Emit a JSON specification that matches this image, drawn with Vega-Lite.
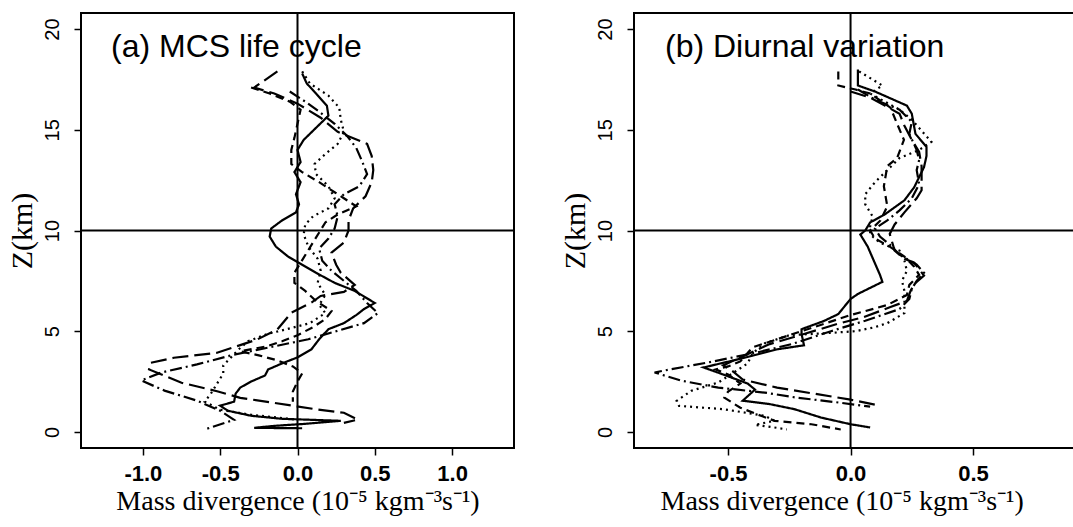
{
  "$schema": "https://vega.github.io/schema/vega-lite/v6.json",
  "background": "white",
  "padding": {"left": 6, "top": 11, "right": 0, "bottom": 0},
  "spacing": 43,
  "config": {
    "view": {"stroke": "black", "strokeWidth": 2},
    "axis": {"domain": false, "grid": false, "tickColor": "black", "tickWidth": 1.5, "tickSize": 7, "labelColor": "black", "titleColor": "black", "labelFlush": false, "labelOverlap": false},
    "axisX": {"labelFont": "Liberation Sans", "labelFontWeight": "bold", "labelFontSize": 22, "labelPadding": 8, "titleFont": "Liberation Serif", "titleFontSize": 28, "titleFontWeight": "normal", "titlePadding": 3},
    "axisY": {"labelAngle": 270, "labelAlign": "center", "labelBaseline": "bottom", "labelFont": "Liberation Sans", "labelFontSize": 20, "labelPadding": 12, "titleFont": "Liberation Serif", "titleFontSize": 30, "titleFontWeight": "normal", "titlePadding": 5},
    "title": {"font": "Liberation Sans", "fontSize": 32, "fontWeight": "normal", "color": "black", "anchor": "start", "frame": "group"}
  },
  "datasets": {
    "a": [
      {"s":"solid","x":0.03,"z":17.8},{"s":"solid","x":0.06,"z":17.3},{"s":"solid","x":0.12,"z":16.8},{"s":"solid","x":0.19,"z":16.2},{"s":"solid","x":0.2,"z":15.7},{"s":"solid","x":0.12,"z":15.1},{"s":"solid","x":0.04,"z":14.5},{"s":"solid","x":0.0,"z":14.0},{"s":"solid","x":0.02,"z":13.4},{"s":"solid","x":-0.02,"z":12.9},{"s":"solid","x":0.02,"z":12.4},{"s":"solid","x":-0.01,"z":11.8},{"s":"solid","x":0.01,"z":11.3},{"s":"solid","x":-0.01,"z":10.9},{"s":"solid","x":-0.1,"z":10.5},{"s":"solid","x":-0.17,"z":10.1},{"s":"solid","x":-0.18,"z":9.7},{"s":"solid","x":-0.14,"z":9.2},{"s":"solid","x":-0.06,"z":8.7},{"s":"solid","x":0.03,"z":8.3},{"s":"solid","x":0.12,"z":7.9},{"s":"solid","x":0.24,"z":7.4},{"s":"solid","x":0.37,"z":7.0},{"s":"solid","x":0.5,"z":6.4},{"s":"solid","x":0.43,"z":6.1},{"s":"solid","x":0.38,"z":5.8},{"s":"solid","x":0.3,"z":5.4},{"s":"solid","x":0.2,"z":5.1},{"s":"solid","x":0.14,"z":4.6},{"s":"solid","x":0.09,"z":4.1},{"s":"solid","x":0.0,"z":3.7},{"s":"solid","x":-0.1,"z":3.4},{"s":"solid","x":-0.19,"z":3.1},{"s":"solid","x":-0.21,"z":2.8},{"s":"solid","x":-0.3,"z":2.5},{"s":"solid","x":-0.37,"z":2.2},{"s":"solid","x":-0.4,"z":1.9},{"s":"solid","x":-0.41,"z":1.5},{"s":"solid","x":-0.5,"z":1.3},{"s":"solid","x":-0.45,"z":1.05},{"s":"solid","x":-0.3,"z":0.8},{"s":"solid","x":-0.1,"z":0.65},{"s":"solid","x":0.28,"z":0.55},{"s":"solid","x":0.05,"z":0.4},{"s":"solid","x":-0.15,"z":0.3},{"s":"solid","x":-0.28,"z":0.2},{"s":"solid","x":0.03,"z":0.18},
      {"s":"dot","x":0.03,"z":17.9},{"s":"dot","x":0.08,"z":17.3},{"s":"dot","x":0.2,"z":16.7},{"s":"dot","x":0.27,"z":16.1},{"s":"dot","x":0.28,"z":15.5},{"s":"dot","x":0.3,"z":14.9},{"s":"dot","x":0.26,"z":14.3},{"s":"dot","x":0.18,"z":13.8},{"s":"dot","x":0.11,"z":13.3},{"s":"dot","x":0.12,"z":12.8},{"s":"dot","x":0.2,"z":12.2},{"s":"dot","x":0.24,"z":11.6},{"s":"dot","x":0.2,"z":11.1},{"s":"dot","x":0.1,"z":10.7},{"s":"dot","x":0.05,"z":10.3},{"s":"dot","x":0.04,"z":9.8},{"s":"dot","x":0.07,"z":9.2},{"s":"dot","x":0.13,"z":8.6},{"s":"dot","x":0.15,"z":8.0},{"s":"dot","x":0.13,"z":7.4},{"s":"dot","x":0.18,"z":6.8},{"s":"dot","x":0.14,"z":6.3},{"s":"dot","x":0.18,"z":5.9},{"s":"dot","x":0.08,"z":5.4},{"s":"dot","x":-0.07,"z":5.1},{"s":"dot","x":-0.2,"z":4.85},{"s":"dot","x":-0.32,"z":4.5},{"s":"dot","x":-0.38,"z":4.1},{"s":"dot","x":-0.43,"z":3.7},{"s":"dot","x":-0.48,"z":3.3},{"s":"dot","x":-0.48,"z":2.9},{"s":"dot","x":-0.52,"z":2.4},{"s":"dot","x":-0.56,"z":1.9},{"s":"dot","x":-0.6,"z":1.5},{"s":"dot","x":-0.5,"z":1.1},{"s":"dot","x":-0.3,"z":0.85},{"s":"dot","x":-0.02,"z":0.62},
      {"s":"dash","x":-0.3,"z":17.1},{"s":"dash","x":-0.18,"z":16.8},{"s":"dash","x":-0.05,"z":16.4},{"s":"dash","x":0.02,"z":16.0},{"s":"dash","x":0.0,"z":15.3},{"s":"dash","x":-0.02,"z":14.6},{"s":"dash","x":-0.04,"z":14.0},{"s":"dash","x":-0.04,"z":13.3},{"s":"dash","x":0.03,"z":12.9},{"s":"dash","x":0.14,"z":12.4},{"s":"dash","x":0.24,"z":11.9},{"s":"dash","x":0.3,"z":11.6},{"s":"dash","x":0.38,"z":11.2},{"s":"dash","x":0.26,"z":10.8},{"s":"dash","x":0.18,"z":10.4},{"s":"dash","x":0.14,"z":9.9},{"s":"dash","x":0.1,"z":9.4},{"s":"dash","x":0.06,"z":8.9},{"s":"dash","x":0.02,"z":8.4},{"s":"dash","x":-0.02,"z":7.9},{"s":"dash","x":-0.02,"z":7.4},{"s":"dash","x":0.05,"z":7.0},{"s":"dash","x":0.12,"z":6.5},{"s":"dash","x":0.22,"z":6.0},{"s":"dash","x":0.18,"z":5.6},{"s":"dash","x":0.1,"z":5.2},{"s":"dash","x":0.0,"z":4.8},{"s":"dash","x":-0.1,"z":4.5},{"s":"dash","x":-0.2,"z":4.25},{"s":"dash","x":-0.37,"z":4.0},{"s":"dash","x":-0.25,"z":3.8},{"s":"dash","x":-0.13,"z":3.55},{"s":"dash","x":-0.03,"z":3.25},{"s":"dash","x":0.03,"z":2.9},{"s":"dash","x":0.0,"z":2.5},{"s":"dash","x":-0.03,"z":2.0},{"s":"dash","x":-0.03,"z":1.5},
      {"s":"dashdot","x":-0.05,"z":16.9},{"s":"dashdot","x":0.05,"z":16.4},{"s":"dashdot","x":0.14,"z":15.9},{"s":"dashdot","x":0.24,"z":15.3},{"s":"dashdot","x":0.32,"z":14.7},{"s":"dashdot","x":0.38,"z":14.1},{"s":"dashdot","x":0.42,"z":13.4},{"s":"dashdot","x":0.45,"z":12.8},{"s":"dashdot","x":0.4,"z":12.2},{"s":"dashdot","x":0.3,"z":11.8},{"s":"dashdot","x":0.24,"z":11.3},{"s":"dashdot","x":0.26,"z":10.7},{"s":"dashdot","x":0.24,"z":10.1},{"s":"dashdot","x":0.2,"z":9.6},{"s":"dashdot","x":0.14,"z":9.1},{"s":"dashdot","x":0.16,"z":8.5},{"s":"dashdot","x":0.22,"z":8.0},{"s":"dashdot","x":0.3,"z":7.5},{"s":"dashdot","x":0.38,"z":7.0},{"s":"dashdot","x":0.45,"z":6.4},{"s":"dashdot","x":0.52,"z":5.9},{"s":"dashdot","x":0.43,"z":5.4},{"s":"dashdot","x":0.25,"z":5.0},{"s":"dashdot","x":0.07,"z":4.6},{"s":"dashdot","x":-0.18,"z":4.2},{"s":"dashdot","x":-0.43,"z":3.8},{"s":"dashdot","x":-0.65,"z":3.35},{"s":"dashdot","x":-0.88,"z":2.95},{"s":"dashdot","x":-1.01,"z":2.55},{"s":"dashdot","x":-0.86,"z":2.05},{"s":"dashdot","x":-0.65,"z":1.55},{"s":"dashdot","x":-0.5,"z":1.05},{"s":"dashdot","x":-0.41,"z":0.6},{"s":"dashdot","x":-0.6,"z":0.12},
      {"s":"longdash","x":-0.13,"z":17.9},{"s":"longdash","x":-0.28,"z":17.1},{"s":"longdash","x":-0.15,"z":16.8},{"s":"longdash","x":0.0,"z":16.3},{"s":"longdash","x":0.15,"z":15.6},{"s":"longdash","x":0.26,"z":14.9},{"s":"longdash","x":0.45,"z":14.3},{"s":"longdash","x":0.48,"z":13.7},{"s":"longdash","x":0.49,"z":13.0},{"s":"longdash","x":0.48,"z":12.4},{"s":"longdash","x":0.44,"z":11.7},{"s":"longdash","x":0.36,"z":11.1},{"s":"longdash","x":0.33,"z":10.5},{"s":"longdash","x":0.33,"z":10.0},{"s":"longdash","x":0.3,"z":9.4},{"s":"longdash","x":0.22,"z":8.9},{"s":"longdash","x":0.25,"z":8.3},{"s":"longdash","x":0.28,"z":7.9},{"s":"longdash","x":0.37,"z":7.3},{"s":"longdash","x":0.3,"z":6.95},{"s":"longdash","x":0.15,"z":6.75},{"s":"longdash","x":0.09,"z":6.42},{"s":"longdash","x":-0.04,"z":5.92},{"s":"longdash","x":-0.13,"z":5.09},{"s":"longdash","x":-0.26,"z":4.59},{"s":"longdash","x":-0.39,"z":4.26},{"s":"longdash","x":-0.52,"z":3.93},{"s":"longdash","x":-0.8,"z":3.68},{"s":"longdash","x":-0.95,"z":3.43},{"s":"longdash","x":-0.96,"z":3.1},{"s":"longdash","x":-0.75,"z":2.44},{"s":"longdash","x":-0.52,"z":2.02},{"s":"longdash","x":-0.37,"z":1.69},{"s":"longdash","x":-0.15,"z":1.44},{"s":"longdash","x":0.13,"z":1.11},{"s":"longdash","x":0.3,"z":0.95},{"s":"longdash","x":0.39,"z":0.61},{"s":"longdash","x":0.3,"z":0.45}
    ],
    "b": [
      {"s":"solid","x":0.03,"z":18.0},{"s":"solid","x":0.03,"z":17.2},{"s":"solid","x":0.1,"z":16.9},{"s":"solid","x":0.23,"z":16.2},{"s":"solid","x":0.25,"z":15.8},{"s":"solid","x":0.265,"z":14.8},{"s":"solid","x":0.31,"z":14.15},{"s":"solid","x":0.31,"z":13.7},{"s":"solid","x":0.3,"z":13.15},{"s":"solid","x":0.26,"z":12.15},{"s":"solid","x":0.22,"z":11.5},{"s":"solid","x":0.14,"z":10.8},{"s":"solid","x":0.08,"z":10.4},{"s":"solid","x":0.06,"z":10.0},{"s":"solid","x":0.04,"z":9.8},{"s":"solid","x":0.07,"z":9.2},{"s":"solid","x":0.095,"z":8.5},{"s":"solid","x":0.12,"z":7.8},{"s":"solid","x":0.13,"z":7.45},{"s":"solid","x":0.03,"z":6.85},{"s":"solid","x":0.0,"z":6.6},{"s":"solid","x":-0.05,"z":5.85},{"s":"solid","x":-0.11,"z":5.5},{"s":"solid","x":-0.2,"z":5.1},{"s":"solid","x":-0.2,"z":4.86},{"s":"solid","x":-0.19,"z":4.3},{"s":"solid","x":-0.3,"z":4.1},{"s":"solid","x":-0.46,"z":3.6},{"s":"solid","x":-0.6,"z":3.2},{"s":"solid","x":-0.52,"z":2.85},{"s":"solid","x":-0.42,"z":2.4},{"s":"solid","x":-0.39,"z":2.1},{"s":"solid","x":-0.44,"z":1.55},{"s":"solid","x":-0.33,"z":1.38},{"s":"solid","x":-0.23,"z":1.13},{"s":"solid","x":-0.12,"z":0.71},{"s":"solid","x":0.0,"z":0.38},{"s":"solid","x":0.08,"z":0.22},
      {"s":"dot","x":0.035,"z":17.9},{"s":"dot","x":0.13,"z":17.2},{"s":"dot","x":0.08,"z":16.8},{"s":"dot","x":0.2,"z":16.0},{"s":"dot","x":0.25,"z":15.5},{"s":"dot","x":0.33,"z":14.4},{"s":"dot","x":0.28,"z":14.0},{"s":"dot","x":0.2,"z":13.6},{"s":"dot","x":0.15,"z":13.0},{"s":"dot","x":0.1,"z":12.4},{"s":"dot","x":0.06,"z":11.8},{"s":"dot","x":0.06,"z":11.3},{"s":"dot","x":0.09,"z":10.7},{"s":"dot","x":0.08,"z":10.2},{"s":"dot","x":0.08,"z":9.8},{"s":"dot","x":0.12,"z":9.4},{"s":"dot","x":0.2,"z":9.0},{"s":"dot","x":0.22,"z":8.5},{"s":"dot","x":0.23,"z":8.0},{"s":"dot","x":0.21,"z":7.5},{"s":"dot","x":0.22,"z":7.0},{"s":"dot","x":0.22,"z":6.3},{"s":"dot","x":0.22,"z":5.9},{"s":"dot","x":0.15,"z":5.4},{"s":"dot","x":0.1,"z":5.2},{"s":"dot","x":0.02,"z":5.0},{"s":"dot","x":-0.1,"z":4.9},{"s":"dot","x":-0.25,"z":4.8},{"s":"dot","x":-0.35,"z":4.4},{"s":"dot","x":-0.4,"z":3.9},{"s":"dot","x":-0.42,"z":3.4},{"s":"dot","x":-0.47,"z":3.0},{"s":"dot","x":-0.54,"z":2.45},{"s":"dot","x":-0.65,"z":2.04},{"s":"dot","x":-0.71,"z":1.54},{"s":"dot","x":-0.7,"z":1.29},{"s":"dot","x":-0.52,"z":1.13},{"s":"dot","x":-0.35,"z":0.8},{"s":"dot","x":-0.31,"z":0.55},{"s":"dot","x":-0.39,"z":0.35},{"s":"dot","x":-0.3,"z":0.2},{"s":"dot","x":-0.26,"z":0.12},
      {"s":"dash","x":-0.05,"z":17.9},{"s":"dash","x":-0.05,"z":17.2},{"s":"dash","x":0.02,"z":17.0},{"s":"dash","x":0.08,"z":16.8},{"s":"dash","x":0.163,"z":16.1},{"s":"dash","x":0.19,"z":15.3},{"s":"dash","x":0.218,"z":14.5},{"s":"dash","x":0.19,"z":13.6},{"s":"dash","x":0.15,"z":13.2},{"s":"dash","x":0.136,"z":12.2},{"s":"dash","x":0.15,"z":11.2},{"s":"dash","x":0.122,"z":10.5},{"s":"dash","x":0.08,"z":10.0},{"s":"dash","x":0.1,"z":9.6},{"s":"dash","x":0.16,"z":9.2},{"s":"dash","x":0.22,"z":8.7},{"s":"dash","x":0.26,"z":8.2},{"s":"dash","x":0.28,"z":7.8},{"s":"dash","x":0.24,"z":7.3},{"s":"dash","x":0.23,"z":6.8},{"s":"dash","x":0.15,"z":6.3},{"s":"dash","x":0.0,"z":5.8},{"s":"dash","x":-0.15,"z":5.2},{"s":"dash","x":-0.3,"z":4.6},{"s":"dash","x":-0.4,"z":4.2},{"s":"dash","x":-0.45,"z":3.5},{"s":"dash","x":-0.5,"z":3.25},{"s":"dash","x":-0.55,"z":3.1},{"s":"dash","x":-0.5,"z":2.85},{"s":"dash","x":-0.45,"z":2.4},{"s":"dash","x":-0.5,"z":2.0},{"s":"dash","x":-0.515,"z":1.7},{"s":"dash","x":-0.45,"z":1.2},{"s":"dash","x":-0.366,"z":0.8},{"s":"dash","x":-0.31,"z":0.55},{"s":"dash","x":-0.16,"z":0.38},{"s":"dash","x":-0.04,"z":0.12},
      {"s":"dashdot","x":0.03,"z":17.0},{"s":"dashdot","x":0.1,"z":16.5},{"s":"dashdot","x":0.2,"z":16.0},{"s":"dashdot","x":0.25,"z":15.4},{"s":"dashdot","x":0.24,"z":14.8},{"s":"dashdot","x":0.27,"z":14.0},{"s":"dashdot","x":0.28,"z":13.5},{"s":"dashdot","x":0.27,"z":13.0},{"s":"dashdot","x":0.28,"z":12.3},{"s":"dashdot","x":0.25,"z":11.6},{"s":"dashdot","x":0.2,"z":11.0},{"s":"dashdot","x":0.15,"z":10.5},{"s":"dashdot","x":0.1,"z":10.1},{"s":"dashdot","x":0.12,"z":9.7},{"s":"dashdot","x":0.16,"z":9.3},{"s":"dashdot","x":0.2,"z":8.8},{"s":"dashdot","x":0.27,"z":8.3},{"s":"dashdot","x":0.3,"z":7.9},{"s":"dashdot","x":0.27,"z":7.5},{"s":"dashdot","x":0.25,"z":7.1},{"s":"dashdot","x":0.24,"z":6.6},{"s":"dashdot","x":0.2,"z":6.1},{"s":"dashdot","x":0.06,"z":5.52},{"s":"dashdot","x":-0.08,"z":5.0},{"s":"dashdot","x":-0.24,"z":4.36},{"s":"dashdot","x":-0.38,"z":3.95},{"s":"dashdot","x":-0.58,"z":3.45},{"s":"dashdot","x":-0.76,"z":3.05},{"s":"dashdot","x":-0.8,"z":2.95},{"s":"dashdot","x":-0.69,"z":2.54},{"s":"dashdot","x":-0.54,"z":2.2},{"s":"dashdot","x":-0.35,"z":1.95},{"s":"dashdot","x":-0.22,"z":1.7},{"s":"dashdot","x":-0.05,"z":1.46},{"s":"dashdot","x":0.08,"z":1.25},
      {"s":"longdash","x":0.0,"z":16.9},{"s":"longdash","x":0.08,"z":16.6},{"s":"longdash","x":0.14,"z":16.2},{"s":"longdash","x":0.2,"z":15.8},{"s":"longdash","x":0.22,"z":15.2},{"s":"longdash","x":0.25,"z":14.5},{"s":"longdash","x":0.28,"z":13.9},{"s":"longdash","x":0.29,"z":13.2},{"s":"longdash","x":0.29,"z":12.0},{"s":"longdash","x":0.27,"z":11.6},{"s":"longdash","x":0.22,"z":10.9},{"s":"longdash","x":0.18,"z":10.3},{"s":"longdash","x":0.16,"z":9.83},{"s":"longdash","x":0.18,"z":9.0},{"s":"longdash","x":0.22,"z":8.6},{"s":"longdash","x":0.26,"z":8.4},{"s":"longdash","x":0.3,"z":7.76},{"s":"longdash","x":0.26,"z":7.35},{"s":"longdash","x":0.245,"z":7.0},{"s":"longdash","x":0.23,"z":6.5},{"s":"longdash","x":0.163,"z":6.2},{"s":"longdash","x":0.054,"z":5.7},{"s":"longdash","x":-0.054,"z":5.36},{"s":"longdash","x":-0.19,"z":4.86},{"s":"longdash","x":-0.33,"z":4.36},{"s":"longdash","x":-0.45,"z":3.7},{"s":"longdash","x":-0.52,"z":3.3},{"s":"longdash","x":-0.48,"z":3.0},{"s":"longdash","x":-0.44,"z":2.6},{"s":"longdash","x":-0.3,"z":2.2},{"s":"longdash","x":-0.15,"z":1.9},{"s":"longdash","x":0.0,"z":1.6},{"s":"longdash","x":0.1,"z":1.35}
    ]
  },
  "hconcat": [
    {
      "width": 433,
      "height": 435,
      "title": {"text": "(a) MCS life cycle", "offset": -52, "dx": 30},
      "layer": [
        {
          "data": {"name": "a"},
          "transform": [{"window": [{"op": "row_number", "as": "i"}], "groupby": ["s"]}],
          "mark": {"type": "line", "color": "black", "strokeWidth": 2.2, "clip": true},
          "encoding": {
            "x": {"field": "x", "type": "quantitative", "scale": {"domain": [-1.4, 1.4], "nice": false, "zero": false},
                  "axis": {"values": [-1, -0.5, 0, 0.5, 1], "labelExpr": "replace(format(datum.value, '.1f'), '\u2212', '-')", "title": "Mass divergence (10\u207b\u2075 kgm\u207b\u00b3s\u207b\u00b9)"}},
            "y": {"field": "z", "type": "quantitative", "scale": {"domain": [-0.8, 20.8], "nice": false, "zero": false},
                  "axis": {"values": [0, 5, 10, 15, 20], "format": "d", "title": "Z(km)"}},
            "order": {"field": "i", "type": "quantitative"},
            "strokeDash": {"field": "s", "type": "nominal", "legend": null,
                           "scale": {"domain": ["solid", "dot", "dash", "dashdot", "longdash"], "range": [[1, 0], [2, 4], [8, 5], [12, 4, 2, 4], [16, 6]]}}
          }
        },
        {"data": {"values": [{}]}, "mark": {"type": "rule", "color": "black", "strokeWidth": 2}, "encoding": {"x": {"datum": 0}}},
        {"data": {"values": [{}]}, "mark": {"type": "rule", "color": "black", "strokeWidth": 2}, "encoding": {"y": {"datum": 10}}}
      ]
    },
    {
      "width": 450,
      "height": 435,
      "title": {"text": "(b) Diurnal variation", "offset": -52, "dx": 31},
      "layer": [
        {
          "data": {"name": "b"},
          "transform": [{"window": [{"op": "row_number", "as": "i"}], "groupby": ["s"]}],
          "mark": {"type": "line", "color": "black", "strokeWidth": 2.2, "clip": true},
          "encoding": {
            "x": {"field": "x", "type": "quantitative", "scale": {"domain": [-0.884, 0.953], "nice": false, "zero": false},
                  "axis": {"values": [-0.5, 0, 0.5], "labelExpr": "replace(format(datum.value, '.1f'), '\u2212', '-')", "title": "Mass divergence (10\u207b\u2075 kgm\u207b\u00b3s\u207b\u00b9)", "titleAnchor": "start", "titleX": 26}},
            "y": {"field": "z", "type": "quantitative", "scale": {"domain": [-0.8, 20.8], "nice": false, "zero": false},
                  "axis": {"values": [0, 5, 10, 15, 20], "format": "d", "title": "Z(km)"}},
            "order": {"field": "i", "type": "quantitative"},
            "strokeDash": {"field": "s", "type": "nominal", "legend": null,
                           "scale": {"domain": ["solid", "dot", "dash", "dashdot", "longdash"], "range": [[1, 0], [2, 4], [8, 5], [12, 4, 2, 4], [16, 6]]}}
          }
        },
        {"data": {"values": [{}]}, "mark": {"type": "rule", "color": "black", "strokeWidth": 2}, "encoding": {"x": {"datum": 0}}},
        {"data": {"values": [{}]}, "mark": {"type": "rule", "color": "black", "strokeWidth": 2}, "encoding": {"y": {"datum": 10}}}
      ]
    }
  ]
}
